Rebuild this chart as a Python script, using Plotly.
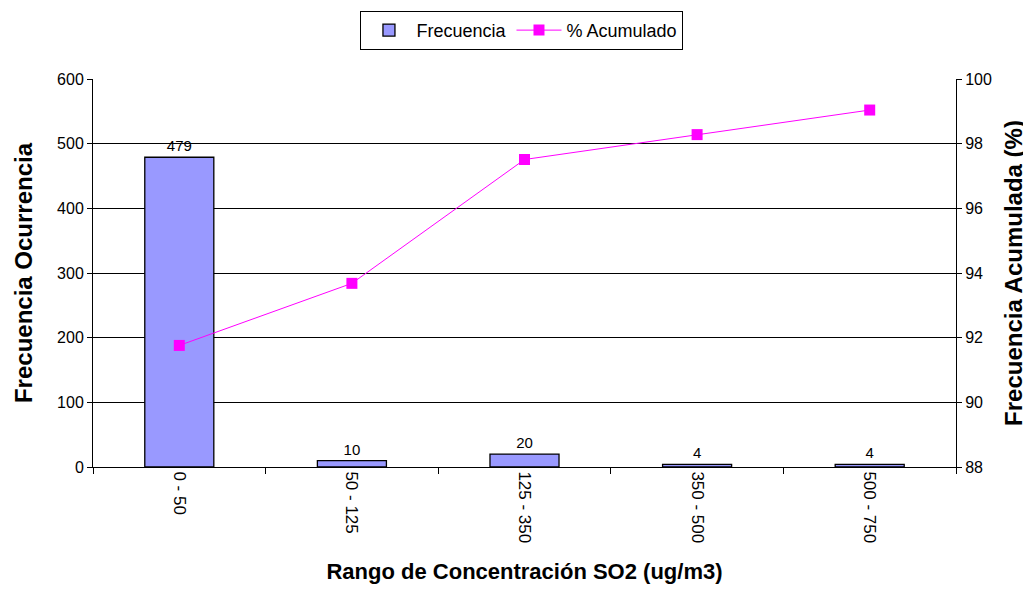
import plotly.graph_objects as go

categories = ["0 - 50", "50 - 125", "125 - 350", "350 - 500", "500 - 750"]
frecuencia = [479, 10, 20, 4, 4]
acumulado = [91.76, 93.68, 97.51, 98.28, 99.04]

FONT = "Liberation Sans, Arial"
fig = go.Figure()
fig.add_trace(go.Bar(
    x=categories, y=frecuencia, name="Frecuencia",
    marker=dict(color="#9999FF", line=dict(color="black", width=1.3)),
    text=[str(v) for v in frecuencia], textposition="outside",
    textfont=dict(family=FONT, size=15, color="black"),
    cliponaxis=False, width=0.4,
))
fig.add_trace(go.Scatter(
    x=categories, y=acumulado, name="% Acumulado", yaxis="y2",
    mode="lines+markers",
    line=dict(color="#FF00FF", width=1),
    marker=dict(symbol="square", size=11, color="#FF00FF"),
))

fig.update_layout(
    width=1023, height=582,
    margin=dict(l=85, r=75, t=71, b=123, autoexpand=False),
    paper_bgcolor="white", plot_bgcolor="white",
    font=dict(family=FONT, size=16, color="black"),
    showlegend=True,
    legend=dict(orientation="h", x=0.5024, xanchor="center", xref="container",
                y=0.995, yanchor="top", yref="container",
                bordercolor="black", borderwidth=1, font=dict(size=18),
                traceorder="normal", itemwidth=45, tracegroupgap=0),
    xaxis=dict(
        type="category", tickangle=90, showgrid=False,
        showline=True, linecolor="black", linewidth=1,
        ticks="outside", tickson="boundaries", ticklen=6, tickcolor="black",
        tickfont=dict(size=17),
        title=dict(text="<b>Rango de Concentración SO2 (ug/m3)</b>",
                   font=dict(size=22), standoff=21),
    ),
    yaxis=dict(
        range=[0, 600], dtick=100, showgrid=True, gridcolor="black", gridwidth=1,
        showline=True, linecolor="black", ticks="outside", ticklen=5, tickcolor="black",
        tickfont=dict(size=16), zeroline=False,
        title=dict(text="<b>Frecuencia Ocurrencia</b>", font=dict(size=24), standoff=17),
    ),
    yaxis2=dict(
        range=[88, 100], dtick=2, overlaying="y", side="right", showgrid=False,
        showline=True, linecolor="black", ticks="outside", ticklen=5, tickcolor="black",
        tickfont=dict(size=16), zeroline=False,
        title=dict(text="<b>Frecuencia Acumulada (%)</b>", font=dict(size=24), standoff=14),
    ),
    bargap=0.6,
)

fig.write_html("out.html")
